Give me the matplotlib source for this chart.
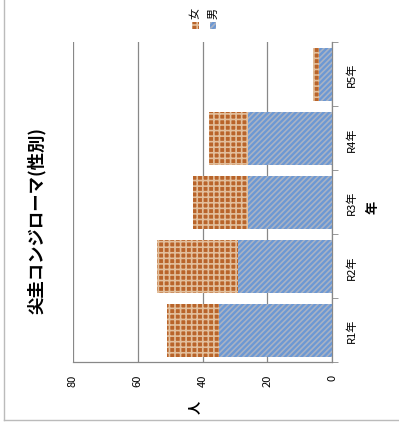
import matplotlib
matplotlib.use("Agg")
import matplotlib.pyplot as plt
from matplotlib.patches import Rectangle
from matplotlib.lines import Line2D
import numpy as np

plt.rcParams['font.family'] = ['Noto Sans CJK JP', 'DejaVu Sans']
plt.rcParams['hatch.linewidth'] = 1.2

categories = ['R1年', 'R2年', 'R3年', 'R4年', 'R5年']
male = [35, 29, 26, 26, 4]
female = [16, 25, 17, 12, 2]
xticks = [0, 20, 40, 60, 80]
title = '尖圭コンジローマ(性別)'

W, H = 399, 439
fig = plt.figure(figsize=(W / 100, H / 100), dpi=100)
ax = fig.add_axes([72.7 / W, 1 - 363.3 / H, (332.3 - 72.7) / W, (363.3 - 43.3) / H])

y = np.arange(len(categories))
male_c = '#6c98d4'
male_h = '#a8b2c4'
fem_c = '#b9642a'
fem_h = '#e2bf9c'
ax.barh(y, male, height=0.83, color=male_c, edgecolor=male_h, hatch='//////', linewidth=0, zorder=3)
ax.barh(y, female, left=male, height=0.83, color=fem_c, edgecolor=fem_h, hatch='+++', linewidth=0, zorder=3)

ax.set_xlim(80, 0)
ax.set_ylim(-0.5, len(categories) - 0.5)
ax.set_xticks(xticks)
ax.set_xticklabels([str(v) for v in xticks], rotation=90, fontsize=8)
ax.tick_params(axis='x', length=0, pad=8)
ax.grid(axis='x', color='#888888', linewidth=0.9, zorder=0)

ax.yaxis.tick_right()
ax.set_yticks(y)
ax.set_yticklabels(categories, rotation=90, fontsize=8, va='center')
ax.set_yticks(np.arange(-0.5, len(categories)), minor=True)
ax.tick_params(axis='y', which='major', length=0, pad=10)
ax.tick_params(axis='y', which='minor', length=4, color='#888888', direction='out')

for s in ['top', 'left']:
    ax.spines[s].set_visible(False)
for s in ['bottom', 'right']:
    ax.spines[s].set_color('#888888')
    ax.spines[s].set_linewidth(0.9)

fig.text(373 / W, 1 - 207 / H, '年', rotation=90, fontsize=9.5, fontweight='bold', ha='center', va='center')
fig.text(195 / W, 1 - 407 / H, '人', rotation=90, fontsize=9.5, fontweight='bold', ha='center', va='center')
fig.text(37 / W, 1 - 220 / H, title, rotation=90, fontsize=12.5, fontweight='bold', ha='center', va='center')

# legend
for xc, lab, fc, ec, ht in [(195, '女', fem_c, fem_h, '+++'), (213, '男', male_c, male_h, '//////')]:
    fig.patches.append(Rectangle(((xc - 3.5) / W, 1 - 29.5 / H), 7 / W, 7 / H, transform=fig.transFigure,
                                 facecolor=fc, edgecolor=ec, hatch=ht, linewidth=0))
    fig.text(xc / W, 1 - 13 / H, lab, rotation=90, fontsize=8, ha='center', va='center')

# outer frame
fig.add_artist(Line2D([3.5 / W, 3.5 / W], [1 - 421 / H, 1.0], transform=fig.transFigure, color='#bbbbbb', linewidth=1))
fig.add_artist(Line2D([3.5 / W, 1.0], [1 - 421 / H, 1 - 421 / H], transform=fig.transFigure, color='#bbbbbb', linewidth=1))

fig.savefig('out.png', dpi=100)
